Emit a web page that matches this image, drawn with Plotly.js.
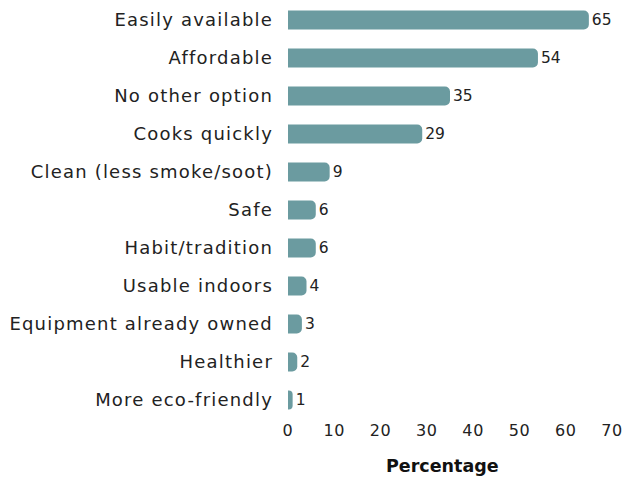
<!DOCTYPE html>
<html><head><meta charset="utf-8">
<script src="https://cdn.plot.ly/plotly-3.0.1.min.js"></script>
<style>html,body{margin:0;padding:0;background:#fff}
#chart .ytick text{letter-spacing:1.2px}
#chart .xtick text{letter-spacing:0.6px}
</style>
</head><body>
<div id="chart" style="width:627px;height:481px"></div>
<script>
const categories = ["Easily available","Affordable","No other option","Cooks quickly","Clean (less smoke/soot)","Safe","Habit/tradition","Usable indoors","Equipment already owned","Healthier","More eco-friendly"];
const values = [65,54,35,29,9,6,6,4,3,2,1];
const tickVals = [0,10,20,30,40,50,60,70];
const axisTitle = "Percentage";

const font = "'DejaVu Sans', 'Noto Sans', sans-serif";
Plotly.newPlot("chart", [{
  type: "bar",
  orientation: "h",
  y: categories,
  x: values,
  width: 0.5,
  marker: {color: "#6b9ba0", cornerradius: 5},
  text: values.map(String),
  textposition: "outside",
  cliponaxis: false,
  textfont: {family: font, size: 15.5, color: "#222"},
  hoverinfo: "none"
}], {
  width: 627, height: 481,
  margin: {l: 288, r: 15, t: 1, b: 62},
  paper_bgcolor: "#fff", plot_bgcolor: "#fff",
  showlegend: false,
  xaxis: {
    range: [0, 70], tickvals: tickVals, showgrid: false, zeroline: false, showline: false,
    ticks: "", tickfont: {family: font, size: 16, color: "#222"}
  },
  yaxis: {
    autorange: "reversed", showgrid: false, zeroline: false, showline: false, ticks: "",
    ticklabelstandoff: 14,
    tickfont: {family: font, size: 18, color: "#222"}
  },
  annotations: [{
    text: "<b>" + axisTitle + "</b>", xref: "paper", yref: "paper",
    x: 0.478, y: 0, yshift: -47, xanchor: "center", yanchor: "middle",
    showarrow: false, font: {family: font, size: 17.5, color: "#111"}
  }]
}, {staticPlot: true});
</script>
</body></html>
